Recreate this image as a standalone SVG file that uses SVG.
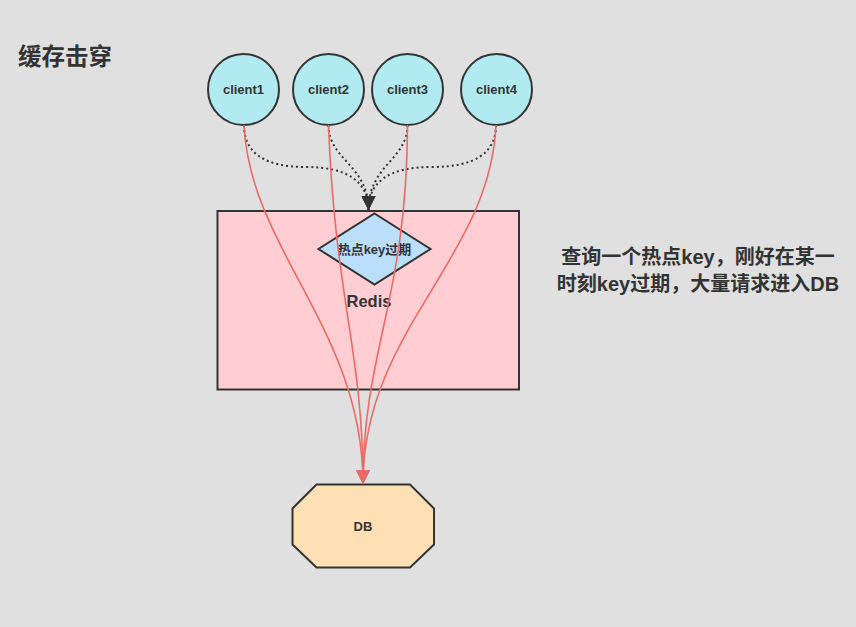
<svg xmlns="http://www.w3.org/2000/svg" width="856" height="627" viewBox="0 0 856 627">
<defs>
<style>
.t{font-family:"Liberation Sans","Noto Sans CJK SC",sans-serif;font-weight:bold;fill:#333;text-anchor:middle}
.node{stroke:#333;stroke-width:2}
.dot{fill:none;stroke:#333;stroke-width:2;stroke-dasharray:2 3}
.red{fill:none;stroke:#ea6b66;stroke-width:1.6}
</style>
<marker id="ab" viewBox="0 0 10 10" refX="10" refY="5" markerWidth="14" markerHeight="14" markerUnits="userSpaceOnUse" orient="auto"><path d="M0,0 L10,5 L0,10 Z" fill="#333"/></marker>
<marker id="ar" viewBox="0 0 10 10" refX="10" refY="5" markerWidth="14" markerHeight="14" markerUnits="userSpaceOnUse" orient="auto"><path d="M0,0 L10,5 L0,10 Z" fill="#ea6b66"/></marker>
</defs>
<rect width="856" height="627" fill="#e0e0e0"/>
<text class="t" x="18" y="65" style="text-anchor:start;font-size:23.5px">缓存击穿</text>
<g id="redis">
<rect class="node" x="217.5" y="211" width="301.5" height="178.5" fill="#ffcdd2"/>
<text class="t" x="369" y="307" font-size="16.5">Redis</text>
</g>
<g id="expire">
<polygon class="node" points="374.5,213.5 430.5,249 374.5,284.5 318.5,249" fill="#bbdefb"/>
<text class="t" x="374.5" y="253.5" font-size="13">热点key过期</text>
</g>
<g id="client1"><circle class="node" cx="243.5" cy="89.5" r="35.5" fill="#b1ebf1"/><text class="t" x="243.5" y="94" font-size="13">client1</text></g>
<g id="client2"><circle class="node" cx="328.5" cy="89.5" r="35.5" fill="#b1ebf1"/><text class="t" x="328.5" y="94" font-size="13">client2</text></g>
<g id="client3"><circle class="node" cx="407.5" cy="89.5" r="35.5" fill="#b1ebf1"/><text class="t" x="407.5" y="94" font-size="13">client3</text></g>
<g id="client4"><circle class="node" cx="496.5" cy="89.5" r="35.5" fill="#b1ebf1"/><text class="t" x="496.5" y="94" font-size="13">client4</text></g>
<g id="db">
<polygon class="node" points="316.5,484.5 410,484.5 434,508.5 434,544.5 410,567.5 316.5,567.5 292.5,544.5 292.5,508.5" fill="#ffdfb3"/>
<text class="t" x="363" y="531" font-size="13">DB</text>
</g>
<g id="connectors">
<path class="dot" d="M244,125 Q244,167 306,167 Q368,167 368.5,210" marker-end="url(#ab)"/>
<path class="dot" d="M328.5,125 C328.5,160 368.5,165 368.5,210" marker-end="url(#ab)"/>
<path class="dot" d="M407.5,125 C407.5,160 368.5,165 368.5,210" marker-end="url(#ab)"/>
<path class="dot" d="M496,125 Q496,167 432,167 Q368.5,167 368.5,210" marker-end="url(#ab)"/>
<path class="red" d="M244,125 C250,250 363,330 363,484" marker-end="url(#ar)"/>
<path class="red" d="M328.5,125 C335,300 363,350 363,484" marker-end="url(#ar)"/>
<path class="red" d="M407.5,125 C407,300 363,350 363,484" marker-end="url(#ar)"/>
<path class="red" d="M496,125 C490,260 363,330 363,484" marker-end="url(#ar)"/>
</g>
<text class="t" x="698" y="264" font-size="20">查询一个热点key，刚好在某一</text>
<text class="t" x="698" y="291" font-size="20">时刻key过期，大量请求进入DB</text>
</svg>
